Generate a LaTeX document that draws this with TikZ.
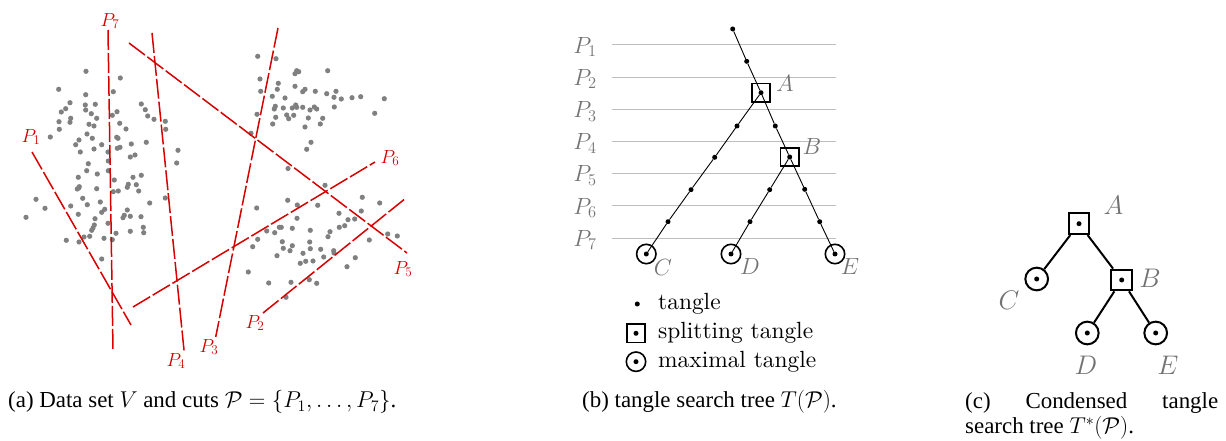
\RequirePackage{fix-cm}
\documentclass[tikz,border=0pt]{standalone}
\usepackage{fontspec}
\setmainfont{lmroman10-regular.otf}[ItalicFont=lmroman10-italic.otf, BoldFont=lmroman10-bold.otf]
\newfontfamily\capfont{Liberation Serif}
\definecolor{cutred}{HTML}{D60000}
\definecolor{dotgray}{HTML}{808080}
\definecolor{lblgray}{HTML}{737373}
\definecolor{gridgray}{HTML}{BEBEBE}
\tikzset{
  cut/.style={cutred, line width=1.5bp, dash pattern=on 20bp off 3bp},
  cutlbl/.style={text=cutred, font=\fontsize{19}{22}\selectfont, inner sep=0pt},
  gridline/.style={gridgray, line width=1bp},
  tdot/.style={circle, fill=black, inner sep=0pt, minimum size=5bp},
  splitbox/.style={draw, line width=1.6bp, minimum size=18.4bp, inner sep=0pt},
  maxcirc/.style={draw, circle, line width=1.6bp, minimum size=19.4bp, inner sep=0pt},
  glbl/.style={text=lblgray, font=\fontsize{23.5}{28}\selectfont, inner sep=0pt},
  legtext/.style={font=\fontsize{23.5}{28}\selectfont, inner sep=0pt, anchor=base west},
  tedge/.style={black, line width=0.9bp},
  cbox/.style={draw, line width=2bp, minimum size=20.7bp, inner sep=0pt},
  ccirc/.style={draw, circle, line width=2bp, minimum size=22.7bp, inner sep=0pt},
  cedge/.style={black, line width=2bp},
  clbl/.style={text=lblgray, font=\fontsize{27}{32}\selectfont, inner sep=0pt},
  captext/.style={font=\capfont\fontsize{23}{26}\selectfont, inner sep=0pt, anchor=base west}
}
\begin{document}
\begin{tikzpicture}[x=1bp,y=-1bp]
\useasboundingbox (0,0) rectangle (1226,441);
% ---------- panel (a): data points ----------
\foreach \px/\py in {86/71.3, 120.3/78, 58.7/89.3, 113.3/91.7, 85.7/94.7, 70/102.7, 85.3/105, 95.3/104.3, 65.7/108.7, 61.3/112, 85.7/110, 91.3/113.7, 117/111.7, 112.3/115.3, 96.7/118.3, 70.7/118.3, 70/122.3, 59/121.7, 89/124.3, 94/126, 119.7/123.3, 59.3/129.3, 126/129, 141.3/104, 145.3/109.7, 147.7/116, 154/119.3, 165.3/121.3, 165.7/129.3, 87/134, 50.3/137, 92.3/138.3, 79/140, 116.7/137.3, 118/138.3, 75.7/144.7, 101.7/144.7, 131.3/144, 146.3/142.3, 94/149, 117.3/148.3, 120/147.3, 80.3/152, 108/152, 135/155, 130.3/157, 178/150.3, 88.3/163.7, 108.3/161, 176.7/163,
86.7/170.7, 108.3/170.7, 97.3/174, 78.3/177.3, 114.3/180, 133/177.3, 141.3/175.3, 79.3/186.7, 77.3/189, 78.7/188, 96.7/188.7, 113.3/191.7, 118.3/191, 128.3/184.3, 127.3/187.3, 136.3/184.7, 138.7/191, 36/199.3, 82.7/198.3, 100.3/202, 87.3/204.7, 70.7/206, 45/208.3, 104.7/209.3, 101.7/212.3, 127.3/210, 149.7/203, 165.3/198, 26/217.3, 78.3/214.3, 95/218.7, 124.3/215.3, 123/217.7, 130.3/216.3, 141/216.7, 108/223.3, 94.3/225, 93/228, 91.7/230.3, 143.3/227.3, 130.3/231.3, 143.7/232.7, 116/233.3, 84/237, 89.7/236.3, 104/238.3, 112.3/239.7, 66.3/240.3, 79/242, 101.7/259,
257.7/56.3, 276/58.7, 296.7/70.7, 298.7/71.7, 295/73.7, 327.7/70.7, 260/79, 278.3/83.3, 277.3/89.3, 295/86.3, 260.7/91.3, 305/89.3, 302.7/91.7, 315.3/91.3, 326.7/93.7, 336/91.3, 272.3/96.3, 285/98, 334/97.3, 341.3/99, 352/97.7, 360.7/96.7, 384.3/98.7, 275.3/106.3, 274.3/109, 283.3/108, 292.3/108, 295.7/105, 296.7/107.3, 302.7/107.3, 310/110, 314.3/107, 316.7/109, 334.3/107, 374.7/113.3, 257/114.3, 275.7/117.3, 286.7/115, 288.7/118.7, 293.7/115.3, 308.3/118, 322.7/118.3, 272.7/124, 320.3/124, 305/127, 251/133.3, 311/142.3, 306.7/149.3, 288/168.5,
325/185.3, 287.7/200.3, 297.3/205, 317.7/205.3, 362.3/197.3, 379.7/203, 256.7/208, 361.3/211, 339/213.3, 297/218.3, 348/219.7, 354.7/219, 279.3/227.3, 281.3/227.3, 292.3/228.3, 266.7/231, 274.7/232.7, 310.3/230.3, 339.3/227.3, 344.7/225.7, 330/231.7, 328/236.7, 387.7/234, 397.3/236, 369.3/240, 257.7/239.3, 252.7/246.7, 282.3/241.7, 309.7/242, 283.3/248.3, 292.3/245.7, 290/250.7, 310.3/248.7, 320.7/249.3, 333.7/250.7, 334/253, 277/255.7, 303/253.3, 323.7/257, 355.3/257.7, 300.3/263.3, 305.7/261.3, 313/261, 347/266.7, 248.3/272, 268.7/283, 291/282.3, 309.3/279.7, 316.7/283.3, 286/297.3}
  \fill[dotgray] (\px,\py) circle (2.6bp);
% ---------- panel (a): cuts ----------
\coordinate (c1a) at (32,152);   \coordinate (c1b) at (131,325);
\coordinate (c2a) at (263,313);  \coordinate (c2b) at (406,198);
\coordinate (c3a) at (278,28);   \coordinate (c3b) at (215.7,337);
\coordinate (c4a) at (152,33);   \coordinate (c4b) at (184.2,352);
\coordinate (c5a) at (129,43);   \coordinate (c5b) at (407,253);
\coordinate (c6a) at (133,307);  \coordinate (c6b) at (375,162);
\coordinate (c7a) at (108,30);   \coordinate (c7b) at (113,350);
\foreach \i in {1,...,7} \draw[cut] (c\i a) -- (c\i b);
\node[cutlbl] (l1) at (31,137) {$P_1$};
\node[cutlbl] (l2) at (255,323) {$P_2$};
\node[cutlbl] (l3) at (209,347) {$P_3$};
\node[cutlbl] (l4) at (176,361) {$P_4$};
\node[cutlbl] (l5) at (403,269) {$P_5$};
\node[cutlbl] (l6) at (390,158) {$P_6$};
\node[cutlbl] (l7) at (110,21) {$P_7$};
% ---------- panel (b): grid ----------
\foreach \k in {1,...,7} {
  \pgfmathsetmacro{\gy}{45+32.17*(\k-1)}
  \draw[gridline] (611.7,\gy) -- (836,\gy);
  \node[glbl] (gp\k) at (585,\gy+2) {$P_{\k}$};
}
% ---------- panel (b): tree ----------
\node[tdot] (r0) at (732.7,29) {};
\node[tdot] (r1) at (746.7,61.3) {};
\node[splitbox] (bA) at (761,92.7) {};
\node[tdot] (r2) at (761,92.7) {};
\node[tdot] (r3) at (775.3,126) {};
\node[splitbox] (bB) at (789.7,157) {};
\node[tdot] (r4) at (789.7,157) {};
\node[tdot] (r5) at (804.7,189.3) {};
\node[tdot] (r6) at (819.7,221.7) {};
\node[maxcirc] (cE) at (835,254) {};
\node[tdot] (r7) at (835,254) {};
\node[tdot] (a3) at (737,126) {};
\node[tdot] (a4) at (714.7,157.3) {};
\node[tdot] (a5) at (691,189.7) {};
\node[tdot] (a6) at (668,221.7) {};
\node[maxcirc] (cC) at (646.3,254) {};
\node[tdot] (a7) at (646.3,254) {};
\node[tdot] (d5) at (769.7,189.7) {};
\node[tdot] (d6) at (750,221.7) {};
\node[maxcirc] (cD) at (731,254) {};
\node[tdot] (d7) at (731,254) {};
\draw[tedge] (r0) -- (r1) -- (r2) -- (r3) -- (r4) -- (r5) -- (r6) -- (r7);
\draw[tedge] (r2) -- (a3) -- (a4) -- (a5) -- (a6) -- (a7);
\draw[tedge] (r4) -- (d5) -- (d6) -- (d7);
\node[glbl] (tA) at (785,83.5) {$A$};
\node[glbl] (tB) at (812,147) {$B$};
\node[glbl] (tC) at (663,268) {$C$};
\node[glbl] (tD) at (750,267) {$D$};
\node[glbl] (tE) at (850,267) {$E$};
% legend
\node[tdot] (lg1) at (637.3,304) {};
\node[legtext] (lt1) at (658,310) {tangle};
\node[splitbox] (lg2b) at (636,333.3) {};
\node[tdot] (lg2) at (636,333.3) {};
\node[legtext] (lt2) at (658,339) {splitting tangle};
\node[maxcirc] (lg3c) at (636,361.7) {};
\node[tdot] (lg3) at (636,361.7) {};
\node[legtext] (lt3) at (658,368) {maximal tangle};
% ---------- panel (c) ----------
\node[cbox] (kA) at (1079,223.7) {};
\node[tdot] at (1079,223.7) {};
\node[cbox] (kB) at (1121.7,280) {};
\node[tdot] at (1121.7,280) {};
\node[ccirc] (kC) at (1036.7,279) {};
\node[tdot] at (1036.7,279) {};
\node[ccirc] (kD) at (1087.3,333) {};
\node[tdot] at (1087.3,333) {};
\node[ccirc] (kE) at (1155.7,333) {};
\node[tdot] at (1155.7,333) {};
\draw[cedge] (kA) -- (kC);
\draw[cedge] (kA) -- (kB);
\draw[cedge] (kB) -- (kD);
\draw[cedge] (kB) -- (kE);
\node[clbl] (mA) at (1113.5,205) {$A$};
\node[clbl] (mB) at (1150,278.5) {$B$};
\node[clbl] (mC) at (1009,300) {$C$};
\node[clbl] (mD) at (1086,365) {$D$};
\node[clbl] (mE) at (1168,365) {$E$};
% ---------- captions ----------
\node[captext] (capa) at (8,408) {(a) Data set $V$ and cuts $\mathcal{P}=\{P_1,\ldots,P_7\}$.};
\node[captext] (capb) at (582,408) {(b) tangle search tree $T(\mathcal{P})$.};
\node[captext, align=left] (capc) at (965,434) {\hbox to 253bp{(c)\hfill Condensed\hfill tangle}\\search tree $T^*(\mathcal{P})$.};
\end{tikzpicture}
\end{document}
